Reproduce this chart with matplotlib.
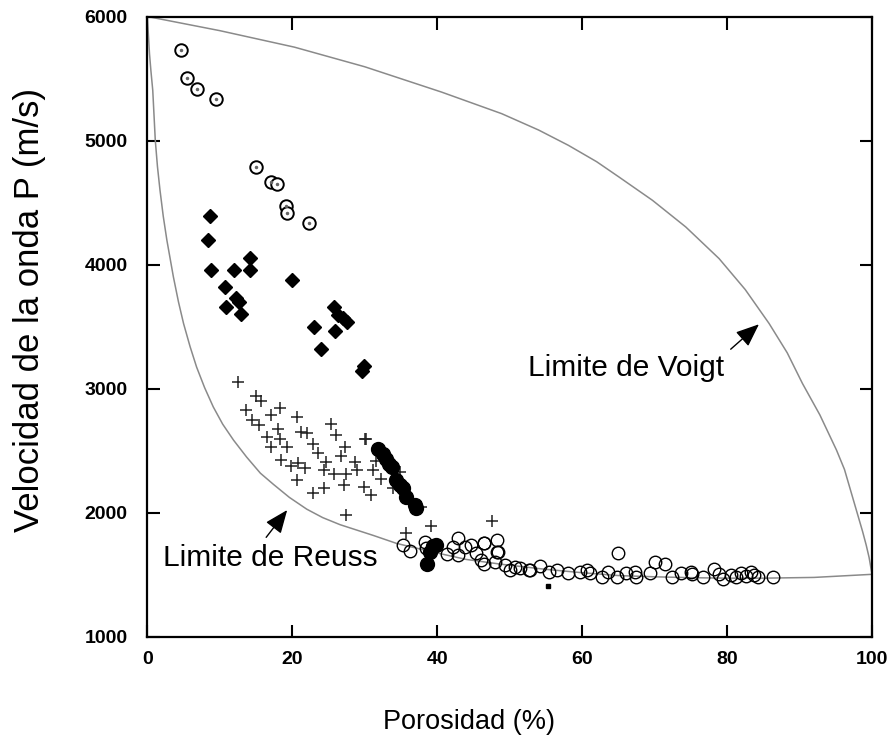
import matplotlib
matplotlib.use("Agg")
import matplotlib.pyplot as plt

# ---------------- data ----------------
# open circles with centre dot (upper series)
top_circ_x = [4.6, 5.5, 6.9, 9.5, 15.0, 17.0, 17.9, 19.1, 19.3, 22.3]
top_circ_y = [5731, 5505, 5414, 5337, 4786, 4665, 4647, 4472, 4416, 4338]

# filled diamonds
diam_x = [8.6, 8.4, 8.8, 12.0, 14.1, 14.1, 10.7, 19.9, 12.2, 12.6, 10.9, 12.9,
          25.7, 26.3, 27.0, 27.6, 23.0, 25.9, 23.9, 29.9, 29.6]
diam_y = [4389, 4201, 3954, 3954, 4056, 3960, 3817, 3874, 3735, 3699, 3659, 3600,
          3659, 3592, 3574, 3538, 3498, 3463, 3324, 3182, 3144]

# crosses
cross_x = [12.5, 15.0, 15.7, 13.6, 17.0, 18.3, 14.4, 15.4, 20.7, 18.0, 16.5, 18.3,
           21.2, 22.0, 25.3, 26.0, 17.1, 19.3, 22.8, 23.6, 27.3, 26.7, 30.2, 18.4,
           19.8, 20.8, 21.7, 24.7, 24.4, 25.7, 27.4, 28.6, 29.0, 31.1, 32.3, 20.7,
           22.8, 24.4, 27.2, 29.9, 30.9, 27.4, 34.8, 33.9, 39.2, 35.7, 37.8, 47.5,
           30.1, 31.5]
cross_y = [3055, 2940, 2903, 2827, 2787, 2849, 2747, 2707, 2769, 2680, 2608, 2592,
           2654, 2646, 2715, 2627, 2527, 2527, 2559, 2484, 2527, 2457, 2592, 2430,
           2377, 2404, 2358, 2409, 2344, 2312, 2312, 2409, 2344, 2344, 2277, 2264,
           2157, 2197, 2224, 2210, 2143, 1982, 2331, 2197, 1896, 1834, 2050, 1934,
           2592, 2420]

# filled circles
fill_x = [31.9, 32.5, 33.0, 33.4, 33.7, 34.3, 34.8, 35.3, 35.7, 36.9, 37.1,
          39.4, 39.9, 39.0, 38.6]
fill_y = [2511, 2473, 2438, 2398, 2371, 2264, 2224, 2197, 2130, 2063, 2036,
          1733, 1741, 1687, 1588]

# open circles (lower series)
open_x = [35.3, 36.2, 38.3, 38.5, 41.3, 42.2, 42.9, 43.8, 42.9, 44.7, 46.4, 48.3,
          48.4, 45.4, 46.1, 46.5, 48.0, 49.4, 50.7, 51.4, 52.6, 54.2, 55.4, 56.5,
          58.1, 59.7, 60.7, 61.1, 62.7, 63.6, 64.8, 65.0, 66.0, 67.3, 67.4, 69.4,
          70.1, 71.4, 72.4, 73.7, 75.0, 75.2, 76.7, 78.2, 78.9, 79.4, 80.5, 81.2,
          81.9, 82.6, 83.3, 83.7, 84.2, 86.3, 50.0, 52.8, 46.5, 48.2]
open_y = [1741, 1695, 1768, 1720, 1668, 1725, 1801, 1725, 1660, 1741, 1755, 1781,
          1687, 1674, 1620, 1588, 1607, 1580, 1567, 1553, 1540, 1572, 1527, 1540,
          1518, 1527, 1540, 1513, 1480, 1527, 1480, 1674, 1513, 1527, 1480, 1518,
          1607, 1588, 1480, 1513, 1527, 1507, 1480, 1545, 1507, 1470, 1499, 1480,
          1513, 1491, 1527, 1499, 1480, 1486, 1540, 1540, 1759, 1687]

# stray small square
dot_x = [55.3]
dot_y = [1410]

# bounds
voigt_x = [0, 10, 20.3, 30, 40.6, 48.9, 54, 58.1, 62, 65.1, 69.7, 74.3, 78.9, 82.5,
           85.8, 88.3, 90.4, 92.8, 95.1, 96.2, 97.0, 98.0, 98.7, 99.2, 99.6, 100]
voigt_y = [6000, 5886, 5753, 5595, 5391, 5217, 5085, 4962, 4830, 4706, 4519, 4304,
           4049, 3800, 3526, 3290, 3043, 2790, 2506, 2350, 2190, 1990, 1850, 1740,
           1640, 1505]
reuss_x = [0, 0.15, 0.3, 0.5, 0.75, 1.1, 1.4, 1.75, 2.2, 2.7, 3.6, 4.3, 5.0, 5.9,
           6.8, 7.9, 9.1, 10.4, 11.9, 13.7, 15.6, 17.4, 19.6, 22.0, 24.2, 26.6,
           31.2, 34.4, 39.0, 44.0, 49.0, 55.0, 60.0, 65.0, 70.0, 75.0, 80.0, 85.0,
           92.0, 100]
reuss_y = [6000, 5850, 5700, 5560, 5405, 5002, 4790, 4600, 4390, 4197, 3901, 3700,
           3526, 3340, 3175, 3010, 2854, 2715, 2586, 2450, 2320, 2230, 2125, 2030,
           1962, 1905, 1818, 1754, 1690, 1625, 1585, 1545, 1518, 1495, 1485, 1478,
           1474, 1474, 1480, 1505]

x_ticks = [0, 20, 40, 60, 80, 100]
y_ticks = [1000, 2000, 3000, 4000, 5000, 6000]

# ---------------- figure ----------------
fig = plt.figure(figsize=(8.88, 7.40), dpi=100)
ax = fig.add_axes([0.1659, 0.1392, 0.8161, 0.8385])

ax.plot(voigt_x, voigt_y, color="#8a8a8a", lw=1.1)
ax.plot(reuss_x, reuss_y, color="#8a8a8a", lw=1.1)

ax.plot(cross_x, cross_y, ls="none", marker="+", ms=9, mew=1.1, color="#222222")
ax.plot(diam_x, diam_y, ls="none", marker="D", ms=7.5, color="black")
ax.plot(top_circ_x, top_circ_y, ls="none", marker="o", ms=9, mfc="white",
        mec="black", mew=1.4)
ax.plot(top_circ_x, top_circ_y, ls="none", marker="o", ms=1.5, color="#666666")
ax.plot(open_x, open_y, ls="none", marker="o", ms=9, mfc="none",
        mec="black", mew=1.0)
ax.plot(fill_x, fill_y, ls="none", marker="o", ms=10, color="black")
ax.plot(dot_x, dot_y, ls="none", marker="s", ms=2.5, color="black")

ax.set_xlim(0, 100)
ax.set_ylim(1000, 6000)
ax.set_xticks(x_ticks)
ax.set_yticks(y_ticks)
tick_font = dict(family=["Liberation Sans Narrow", "Liberation Sans", "DejaVu Sans"],
                 weight="bold", size=14)
ax.set_xticklabels([str(v) for v in x_ticks], **tick_font)
ax.set_yticklabels([str(v) for v in y_ticks], **tick_font)
ax.tick_params(direction="in", length=9, width=1.5, top=True, right=True,
               colors="black")
ax.tick_params(axis="x", pad=10)
ax.tick_params(axis="y", pad=14)
for s in ax.spines.values():
    s.set_linewidth(1.6)

lab_font = dict(family=["Liberation Sans", "DejaVu Sans"])
fig.text(469 / 888, 1 - 722 / 740, "Porosidad (%)", ha="center", va="center",
         size=19.5, **lab_font)
fig.text(30 / 888, 1 - 310 / 740, "Velocidad de la onda P (m/s)", ha="center",
         va="center", rotation=90, size=25, **lab_font)

ax.text(52.5, 3166, "Limite de Voigt", ha="left", va="center", size=21.5, **lab_font)
ax.text(2.2, 1636, "Limite de Reuss", ha="left", va="center", size=21.5, **lab_font)

arrow = dict(arrowstyle="-|>,head_length=1.1,head_width=0.45", color="black",
             lw=1.0, mutation_scale=13, shrinkA=0, shrinkB=0)
ax.annotate("", xy=(84.4, 3520), xytext=(80.5, 3319), arrowprops=arrow)
ax.annotate("", xy=(19.3, 2023), xytext=(16.4, 1803), arrowprops=arrow)

fig.savefig("out.png", dpi=100)
